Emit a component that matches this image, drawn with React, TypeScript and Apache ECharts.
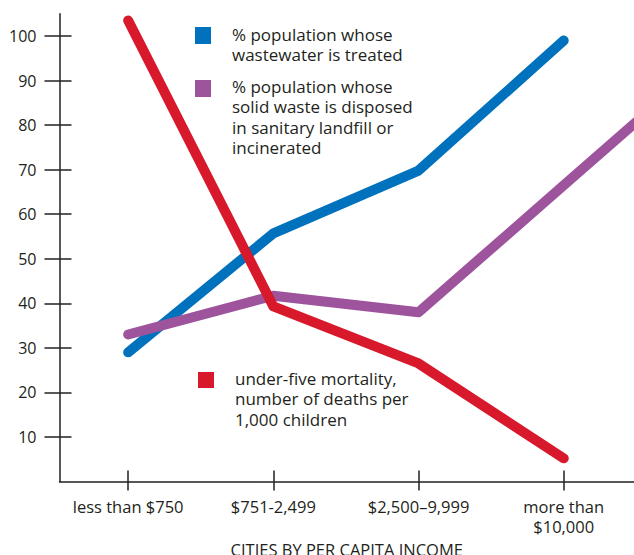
import React, { useEffect, useRef } from "react";
import * as echarts from "echarts";

const categories = ["less than $750", "$751-2,499", "$2,500–9,999", "more than\n$10,000"];
const yTicks = [10, 20, 30, 40, 50, 60, 70, 80, 90, 100];
const wastewater = [29, 55.7, 69.8, 99];
const solidWaste = [33, 41.7, 38, 66.5, 95];
const mortality = [103.5, 39.3, 26.5, 5.2];

const legendWaste = "% population whose\nwastewater is treated";
const legendSolid = "% population whose\nsolid waste is disposed\nin sanitary landfill or\nincinerated";
const legendMort = "under-five mortality,\nnumber of deaths per\n1,000 children";

const BLUE = "#0071bd";
const PURPLE = "#9e549d";
const RED = "#d8182b";
const INK = "#231f20";
const FONT = "'Open Sans', sans-serif";

export default function App() {
  const ref = useRef<HTMLDivElement>(null);
  useEffect(() => {
    const chart = echarts.init(ref.current!, null, { renderer: "svg" });
    const toPairs = (arr: number[]) => arr.map((v, i) => [i, v]);
    const lineSeries = (name: string, data: number[], color: string) => ({
      type: "line",
      name,
      data: toPairs(data),
      showSymbol: false,
      clip: true,
      lineStyle: { color, width: 10, cap: "round", join: "round" },
      itemStyle: { color },
    });
    const idx = [0, 1, 2, 3];
    chart.setOption({
      animation: false,
      grid: { left: 59.5, right: 0, top: 13.8, bottom: 73.5, containLabel: false, outerBoundsMode: "none" },
      xAxis: [
        {
          type: "value",
          min: -0.473,
          max: 3.484,
          splitLine: { show: false },
          axisLine: { show: true, onZero: false, lineStyle: { color: INK, width: 1.5 } },
          axisTick: { show: true, customValues: idx, length: 9, lineStyle: { color: INK, width: 1.5 } },
          axisLabel: {
            show: true,
            customValues: idx,
            formatter: (v: number) => categories[Math.round(v)],
            color: INK,
            fontFamily: FONT,
            fontSize: 16.5,
            lineHeight: 20,
            margin: 15,
            verticalAlign: "top",
          },
          name: "CITIES BY PER CAPITA INCOME",
          nameLocation: "middle",
          nameGap: 57,
          nameTextStyle: { color: INK, fontFamily: FONT, fontSize: 16.5 },
        },
        {
          type: "value",
          position: "bottom",
          min: -0.473,
          max: 3.484,
          splitLine: { show: false },
          axisLine: { show: false, onZero: false },
          axisTick: { show: true, inside: true, customValues: idx, length: 11, lineStyle: { color: INK, width: 1.5 } },
          axisLabel: { show: false },
        },
      ],
      yAxis: [
        {
          type: "value",
          min: 0,
          max: 105,
          splitLine: { show: false },
          axisLine: { show: true, onZero: false, lineStyle: { color: INK, width: 1.5 } },
          axisTick: { show: true, customValues: yTicks, length: 15, lineStyle: { color: INK, width: 1.5 } },
          axisLabel: {
            show: true,
            customValues: yTicks,
            color: INK,
            fontFamily: FONT,
            fontSize: 16,
            margin: 23,
          },
        },
        {
          type: "value",
          position: "left",
          min: 0,
          max: 105,
          splitLine: { show: false },
          axisLine: { show: false, onZero: false },
          axisTick: { show: true, inside: true, customValues: yTicks, length: 12, lineStyle: { color: INK, width: 1.5 } },
          axisLabel: { show: false },
        },
      ],
      series: [
        lineSeries("wastewater", wastewater, BLUE),
        lineSeries("solid waste", solidWaste, PURPLE),
        lineSeries("mortality", mortality, RED),
      ],
      graphic: [
        { type: "rect", shape: { x: 195, y: 27, width: 16, height: 17 }, style: { fill: BLUE } },
        {
          type: "text", x: 232, y: 24,
          style: { text: legendWaste, fill: INK, font: `17px ${FONT}`, lineHeight: 20.5 },
        },
        { type: "rect", shape: { x: 195, y: 80, width: 16, height: 17 }, style: { fill: PURPLE } },
        {
          type: "text", x: 232, y: 76,
          style: { text: legendSolid, fill: INK, font: `17px ${FONT}`, lineHeight: 20.5 },
        },
        { type: "rect", shape: { x: 198, y: 372, width: 16, height: 16 }, style: { fill: RED } },
        {
          type: "text", x: 235, y: 368,
          style: { text: legendMort, fill: INK, font: `17px ${FONT}`, lineHeight: 20.5 },
        },
      ],
    });
    return () => chart.dispose();
  }, []);
  return (
    <div
      ref={ref}
      style={{ position: "fixed", left: 0, top: 0, width: 634, height: 555, background: "#fff" }}
    />
  );
}
